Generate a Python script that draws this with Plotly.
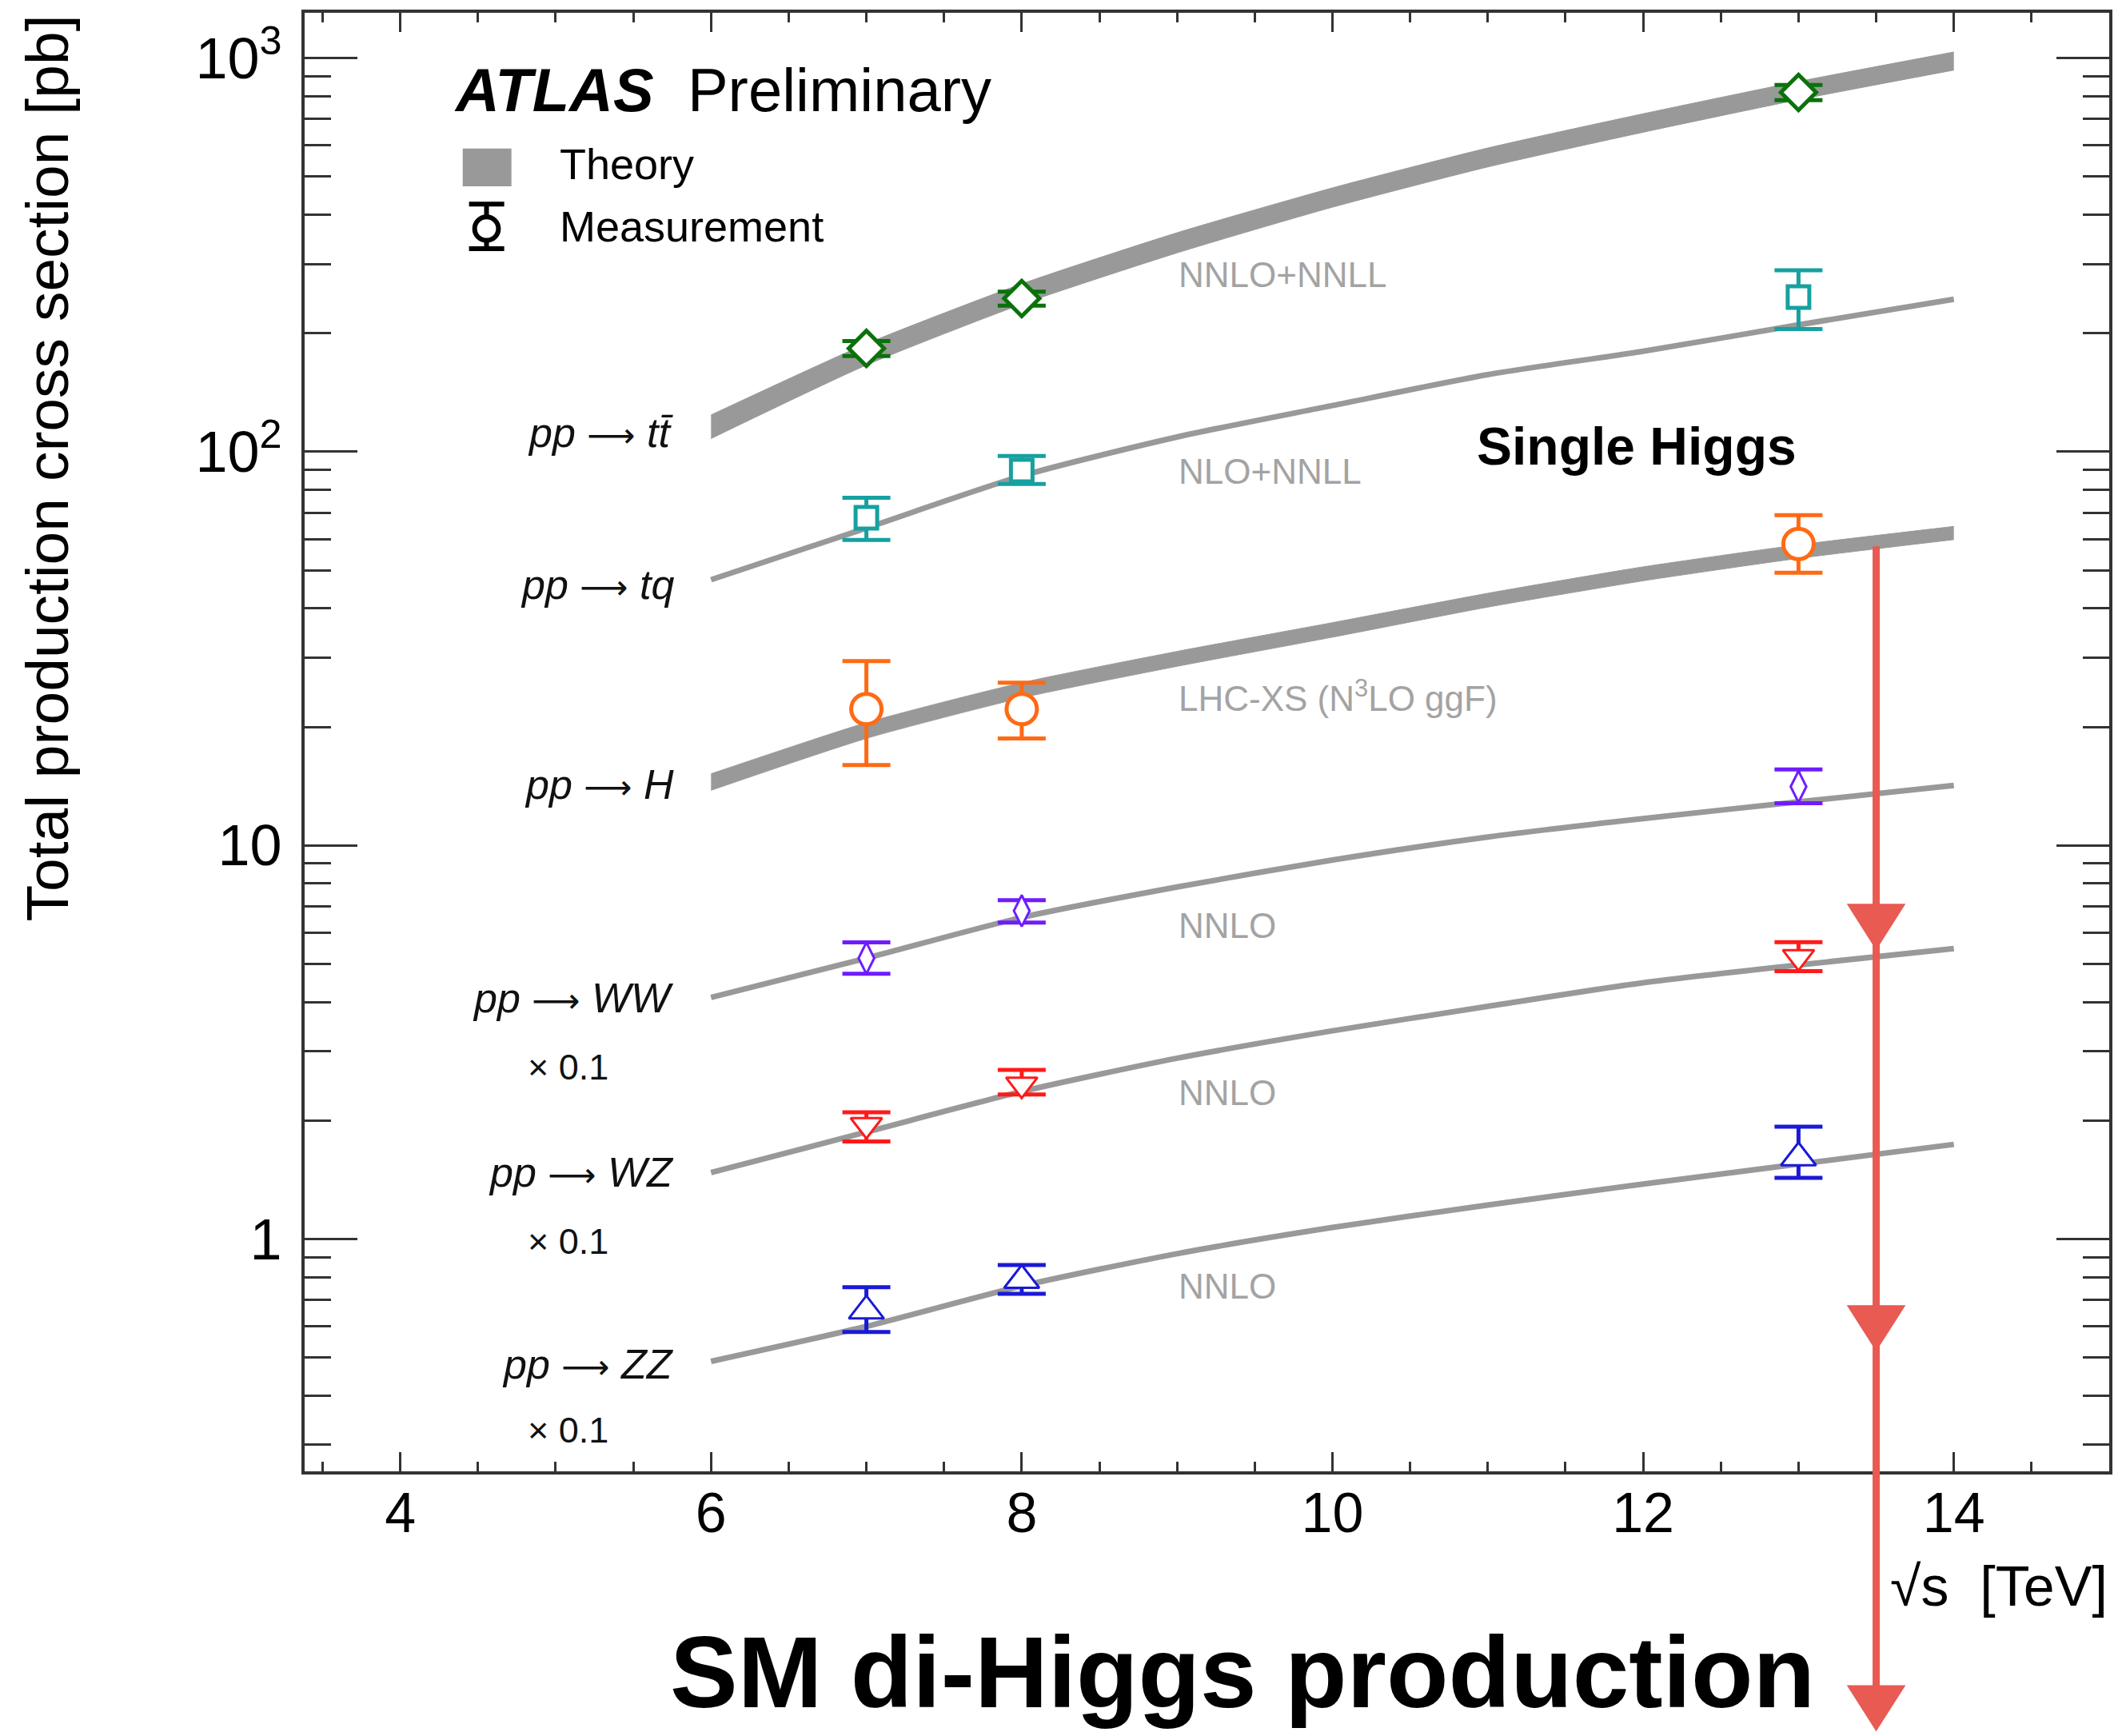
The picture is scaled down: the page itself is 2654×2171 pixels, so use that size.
import math
import plotly.graph_objects as go

# ---------------- data ----------------
sqrt_s_theory = [6, 7, 8, 9, 10, 11, 12, 13, 14]

ttbar_theory_lo = [108, 166, 237, 320, 418, 529, 648, 784, 932]
ttbar_theory_hi = [124, 188, 267, 360, 468, 591, 722, 872, 1036]
tq_theory = [47.3, 64.0, 86.8, 109, 131, 157, 180, 210, 244]
higgs_theory_lo = [13.8, 18.7, 23.7, 28.5, 33.8, 40.3, 47.0, 53.6, 59.8]
higgs_theory_hi = [15.2, 20.5, 25.9, 31.1, 36.8, 43.7, 51.0, 58.0, 64.6]
ww_theory = [4.11, 5.17, 6.56, 7.84, 9.18, 10.5, 11.7, 12.9, 14.2]
wz_theory = [1.476, 1.87, 2.37, 2.88, 3.38, 3.90, 4.48, 4.97, 5.47]
zz_theory = [0.489, 0.600, 0.760, 0.918, 1.07, 1.22, 1.38, 1.55, 1.74]

sqrt_s_meas = [7, 8, 13]
ttbar_meas = [183, 245, 818]
ttbar_err_up = [8, 10, 36]
ttbar_err_dn = [8, 10, 36]
tq_meas = [68, 89.6, 247]
tq_err_up = [8.4, 7.9, 42]
tq_err_dn = [8.3, 6.8, 42]
higgs_meas = [22.2, 22.2, 58.3]
higgs_err_up = [7.2, 3.7, 10.7]
higgs_err_dn = [6.2, 3.5, 9.0]
ww_meas = [5.17, 6.82, 14.1]
ww_err_up = [0.50, 0.44, 1.5]
ww_err_dn = [0.45, 0.45, 1.3]
wz_meas = [1.95, 2.47, 5.21]
wz_err_up = [0.15, 0.22, 0.47]
wz_err_dn = [0.18, 0.14, 0.42]
zz_meas = [0.657, 0.786, 1.61]
zz_err_up = [0.098, 0.073, 0.32]
zz_err_dn = [0.076, 0.060, 0.18]

x_tickvals = [4, 6, 8, 10, 12, 14]
y_tickvals = [1, 10, 100, 1000]
y_ticktext = ["1", "10", "10<sup>2</sup>", "10<sup>3</sup>"]
y_minor = [m * d for d in (0.1, 1, 10, 100, 1000) for m in range(2, 10)]

ARR = "<span style='font-family:DejaVu Sans;font-size:42px'>⟶</span>"
process_labels = [f"<i>pp</i> {ARR} <i>t</i><i>t̄</i>", f"<i>pp</i> {ARR} <i>tq</i>",
                  f"<i>pp</i> {ARR} <i>H</i>", f"<i>pp</i> {ARR} <i>WW</i>",
                  f"<i>pp</i> {ARR} <i>WZ</i>", f"<i>pp</i> {ARR} <i>ZZ</i>"]
process_label_y = [112, 46, 14.3, 4.09, 1.475, 0.482]
scale_label_y = [2.73, 0.986, 0.327]
theory_labels = ["NNLO+NNLL", "NLO+NNLL", "LHC-XS (N<sup>3</sup>LO ggF)", "NNLO", "NNLO", "NNLO"]
theory_label_y = [282, 89, 24.0, 6.27, 2.35, 0.76]

GRAY = "#999999"
FONT = "Liberation Sans, Arial, Helvetica, sans-serif"

fig = go.Figure()

def band(lo, hi):
    fig.add_trace(go.Scatter(x=sqrt_s_theory, y=lo, mode="lines",
                             line=dict(color=GRAY, width=1, shape="spline", smoothing=0.6),
                             showlegend=False, hoverinfo="skip"))
    fig.add_trace(go.Scatter(x=sqrt_s_theory, y=hi, mode="lines", fill="tonexty",
                             fillcolor=GRAY,
                             line=dict(color=GRAY, width=1, shape="spline", smoothing=0.6),
                             showlegend=False, hoverinfo="skip"))

def curve(y):
    fig.add_trace(go.Scatter(x=sqrt_s_theory, y=y, mode="lines",
                             line=dict(color=GRAY, width=7, shape="spline", smoothing=0.7),
                             showlegend=False, hoverinfo="skip"))

band(ttbar_theory_lo, ttbar_theory_hi)
curve(tq_theory)
band(higgs_theory_lo, higgs_theory_hi)
curve(ww_theory)
curve(wz_theory)
curve(zz_theory)

def meas(y, up, dn, color, symbol, size, lw):
    fig.add_trace(go.Scatter(
        x=sqrt_s_meas, y=y, mode="markers",
        marker=dict(symbol=symbol, size=size, color="white", line=dict(color=color, width=lw)),
        error_y=dict(type="data", symmetric=False, array=up, arrayminus=dn,
                     color=color, thickness=5, width=30),
        showlegend=False))

meas(ttbar_meas, ttbar_err_up, ttbar_err_dn, "#0b720b", "diamond", 34, 5)
meas(tq_meas, tq_err_up, tq_err_dn, "#17a0a0", "square", 27, 5)
meas(higgs_meas, higgs_err_up, higgs_err_dn, "#ff6a14", "circle", 38, 5)
meas(ww_meas, ww_err_up, ww_err_dn, "#6f1cff", "diamond-tall", 28, 3)
meas(wz_meas, wz_err_up, wz_err_dn, "#ff1a1a", "triangle-down", 34, 3)
meas(zz_meas, zz_err_up, zz_err_dn, "#1a1ad6", "triangle-up", 38, 3)

ann = []
for t, yv in zip(process_labels, process_label_y):
    ann.append(dict(x=5.77, y=math.log10(yv), xref="x", yref="y", text=t, showarrow=False,
                    xanchor="right", yanchor="middle", font=dict(family=FONT, size=52, color="#111")))
for yv in scale_label_y:
    ann.append(dict(x=5.08, y=math.log10(yv), xref="x", yref="y", text="× 0.1", showarrow=False,
                    xanchor="center", yanchor="middle", font=dict(family=FONT, size=45, color="#111")))
for t, yv in zip(theory_labels, theory_label_y):
    ann.append(dict(x=9.0, y=math.log10(yv), xref="x", yref="y", text=t, showarrow=False,
                    xanchor="left", yanchor="middle", font=dict(family=FONT, size=44, color="#a3a3a3")))

ann += [
    dict(x=0.0818, y=0.9472, xref="paper", yref="paper", xanchor="left", yanchor="middle",
         text="<b><i>ATLAS</i></b>  Preliminary", showarrow=False,
         font=dict(family=FONT, size=76, color="black")),
    dict(x=0.1406, y=0.8963, xref="paper", yref="paper", xanchor="left", yanchor="middle",
         text="Theory", showarrow=False, font=dict(family=FONT, size=54, color="black")),
    dict(x=0.1406, y=0.8536, xref="paper", yref="paper", xanchor="left", yanchor="middle",
         text="Measurement", showarrow=False, font=dict(family=FONT, size=54, color="black")),
    dict(x=10.92, y=2.015, xref="x", yref="y", xanchor="left", yanchor="middle",
         text="<b>Single Higgs</b>", showarrow=False, font=dict(family=FONT, size=66, color="black")),
    dict(x=0.2015, y=-0.1378, xref="paper", yref="paper", xanchor="left", yanchor="middle",
         text="<b>SM di-Higgs production</b>", showarrow=False,
         font=dict(family=FONT, size=127, color="black")),
    dict(x=1.0, y=-0.0788, xref="paper", yref="paper", xanchor="right", yanchor="middle",
         text="√s  [TeV]", showarrow=False, font=dict(family=FONT, size=70, color="black")),
    dict(x=-0.1425, y=0.688, xref="paper", yref="paper", xanchor="center", yanchor="middle",
         text="Total production cross section [pb]", textangle=-90, showarrow=False,
         font=dict(family=FONT, size=75, color="black")),
]

ARROW = "#e85a52"
shapes = [
    # legend glyphs
    dict(type="rect", xref="paper", yref="paper", x0=0.0876, x1=0.1146, y0=0.8810, y1=0.9070,
         fillcolor=GRAY, line=dict(width=0)),
    dict(type="line", xref="paper", yref="paper", x0=0.1008, x1=0.1008, y0=0.8383, y1=0.8689,
         line=dict(color="black", width=6)),
    dict(type="line", xref="paper", yref="paper", x0=0.0911, x1=0.1106, y0=0.8689, y1=0.8689,
         line=dict(color="black", width=6)),
    dict(type="line", xref="paper", yref="paper", x0=0.0911, x1=0.1106, y0=0.8383, y1=0.8383,
         line=dict(color="black", width=6)),
    dict(type="circle", xref="paper", yref="paper", x0=0.0942, x1=0.1074, y0=0.8440, y1=0.8600,
         fillcolor="white", line=dict(color="black", width=6)),
    # red arrow
    dict(type="line", xref="x", yref="paper", x0=13.5, x1=13.5, y0=0.6342, y1=-0.1720,
         line=dict(color=ARROW, width=9)),
]
for tip in (0.3584, 0.0832, -0.1773):
    shapes.append(dict(type="path", xref="x", yref="paper", xsizemode="pixel", ysizemode="pixel",
                       xanchor=13.5, yanchor=tip, path="M -35 55 L 35 55 L 0 0 Z",
                       fillcolor=ARROW, line=dict(color=ARROW, width=2)))

fig.update_layout(
    width=2654, height=2171,
    margin=dict(l=381, r=12, t=12, b=331),
    paper_bgcolor="white", plot_bgcolor="white",
    font=dict(family=FONT, color="black"),
    annotations=ann, shapes=shapes,
    xaxis=dict(range=[3.384, 15.0], tickmode="array", tickvals=x_tickvals,
               ticks="inside", ticklen=24, tickwidth=3, tickcolor="#333",
               minor=dict(dtick=0.5, tick0=0, ticks="inside", ticklen=12, tickwidth=3, tickcolor="#333"),
               showline=True, linewidth=4, linecolor="#333", mirror="ticks",
               showgrid=False, zeroline=False, ticklabelstandoff=-12,
               tickfont=dict(family=FONT, size=70, color="black")),
    yaxis=dict(type="log", range=[-0.590, 3.115], tickmode="array", tickvals=y_tickvals,
               ticktext=y_ticktext, ticks="inside", ticklen=66, tickwidth=3, tickcolor="#333",
               minor=dict(tickmode="array", tickvals=y_minor, ticks="inside", ticklen=33,
                          tickwidth=3, tickcolor="#333"),
               showline=True, linewidth=4, linecolor="#333", mirror="ticks",
               showgrid=False, zeroline=False, ticklabelstandoff=10,
               tickfont=dict(family=FONT, size=72, color="black")),
)

fig.write_html("out.html", config={"displayModeBar": False},
               post_script="document.body.style.margin='0px';document.body.style.overflow='hidden';")
